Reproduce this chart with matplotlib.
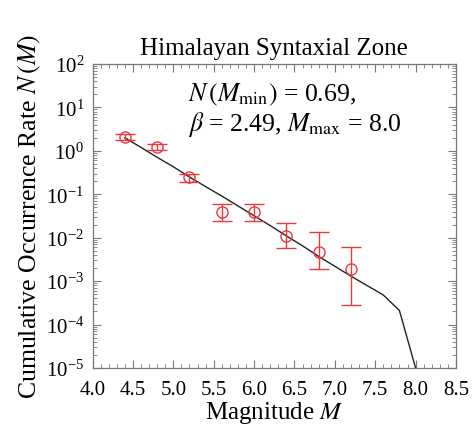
import matplotlib
matplotlib.use("Agg")
import matplotlib.pyplot as plt
from matplotlib.ticker import LogLocator, MultipleLocator, NullFormatter, FormatStrFormatter

plt.rcParams["font.family"] = ["Liberation Serif", "DejaVu Serif"]
plt.rcParams["mathtext.fontset"] = "stix"

# Observed cumulative rates with error bounds
mag_obs = [4.4, 4.8, 5.2, 5.6, 6.0, 6.4, 6.8, 7.2]
rate_obs = [2.1, 1.2, 0.245, 0.040, 0.040, 0.011, 0.0048, 0.0019]
rate_hi = [2.45, 1.45, 0.30, 0.059, 0.059, 0.022, 0.0132, 0.0062]
rate_lo = [1.78, 1.05, 0.19, 0.0245, 0.0245, 0.0058, 0.0019, 0.00028]

# Truncated Gutenberg-Richter model curve
mag_fit = [4.4, 4.6, 4.8, 5.0, 5.2, 5.4, 5.6, 5.8, 6.0, 6.2,
           6.4, 6.6, 6.8, 7.0, 7.2, 7.4, 7.6, 7.8, 8.0]
rate_fit = [2.0, 1.2, 0.71, 0.43, 0.25, 0.15, 0.091, 0.054, 0.032, 0.019,
            0.011, 0.0065, 0.0037, 0.0022, 0.0013, 0.00079, 0.00048, 0.00021, 1e-5]

fig = plt.figure(figsize=(4.73, 4.39), dpi=100)
ax = fig.add_axes([0.1956, 0.1595, 0.7684, 0.6925])

ax.plot(mag_fit, rate_fit, color="#222222", lw=1.0, zorder=2, clip_on=True)

yerr = [[r - lo for r, lo in zip(rate_obs, rate_lo)],
        [hi - r for r, hi in zip(rate_obs, rate_hi)]]
ax.errorbar(mag_obs, rate_obs, yerr=yerr, fmt="o", mfc="none", mec="#e8393f",
            ms=8, mew=1.0, ecolor="#e8393f", elinewidth=1.0, capsize=7,
            capthick=1.0, zorder=3)

ax.set_yscale("log")
ax.set_xlim(4.0, 8.5)
ax.set_ylim(1e-5, 1e2)
ax.xaxis.set_major_locator(MultipleLocator(0.5))
ax.xaxis.set_minor_locator(MultipleLocator(0.1))
ax.yaxis.set_major_locator(LogLocator(base=10, numticks=20))
ax.yaxis.set_minor_locator(LogLocator(base=10, subs=range(2, 10), numticks=20))
ax.yaxis.set_minor_formatter(NullFormatter())
ax.xaxis.set_major_formatter(FormatStrFormatter("%.1f"))

for s in ax.spines.values():
    s.set_color("#777777")
    s.set_linewidth(0.9)
ax.tick_params(which="both", direction="in", top=True, right=True,
               color="#777777", labelsize=15)
ax.tick_params(axis="x", pad=9)
ax.tick_params(axis="y", pad=6)
ax.tick_params(which="major", length=6, width=0.8)
ax.tick_params(which="minor", length=3, width=0.6)

ax.set_title("Himalayan Syntaxial Zone", fontsize=18, pad=7)
ax.set_xlabel("Magnitude $M$", fontsize=18, labelpad=0)
ax.set_ylabel("Cumulative Occurrence Rate $N\\,(M)$", fontsize=18.5, labelpad=2)

ax.text(0.263, 0.903, "$N\\,(M_{\\mathrm{min}})$ = 0.69,", transform=ax.transAxes,
        fontsize=18.5, va="center", ha="left")
ax.text(0.263, 0.805, "$\\beta$ = 2.49, $M_{\\mathrm{max}}$ = 8.0", transform=ax.transAxes,
        fontsize=18.5, va="center", ha="left")

fig.savefig("out.png", dpi=100)
